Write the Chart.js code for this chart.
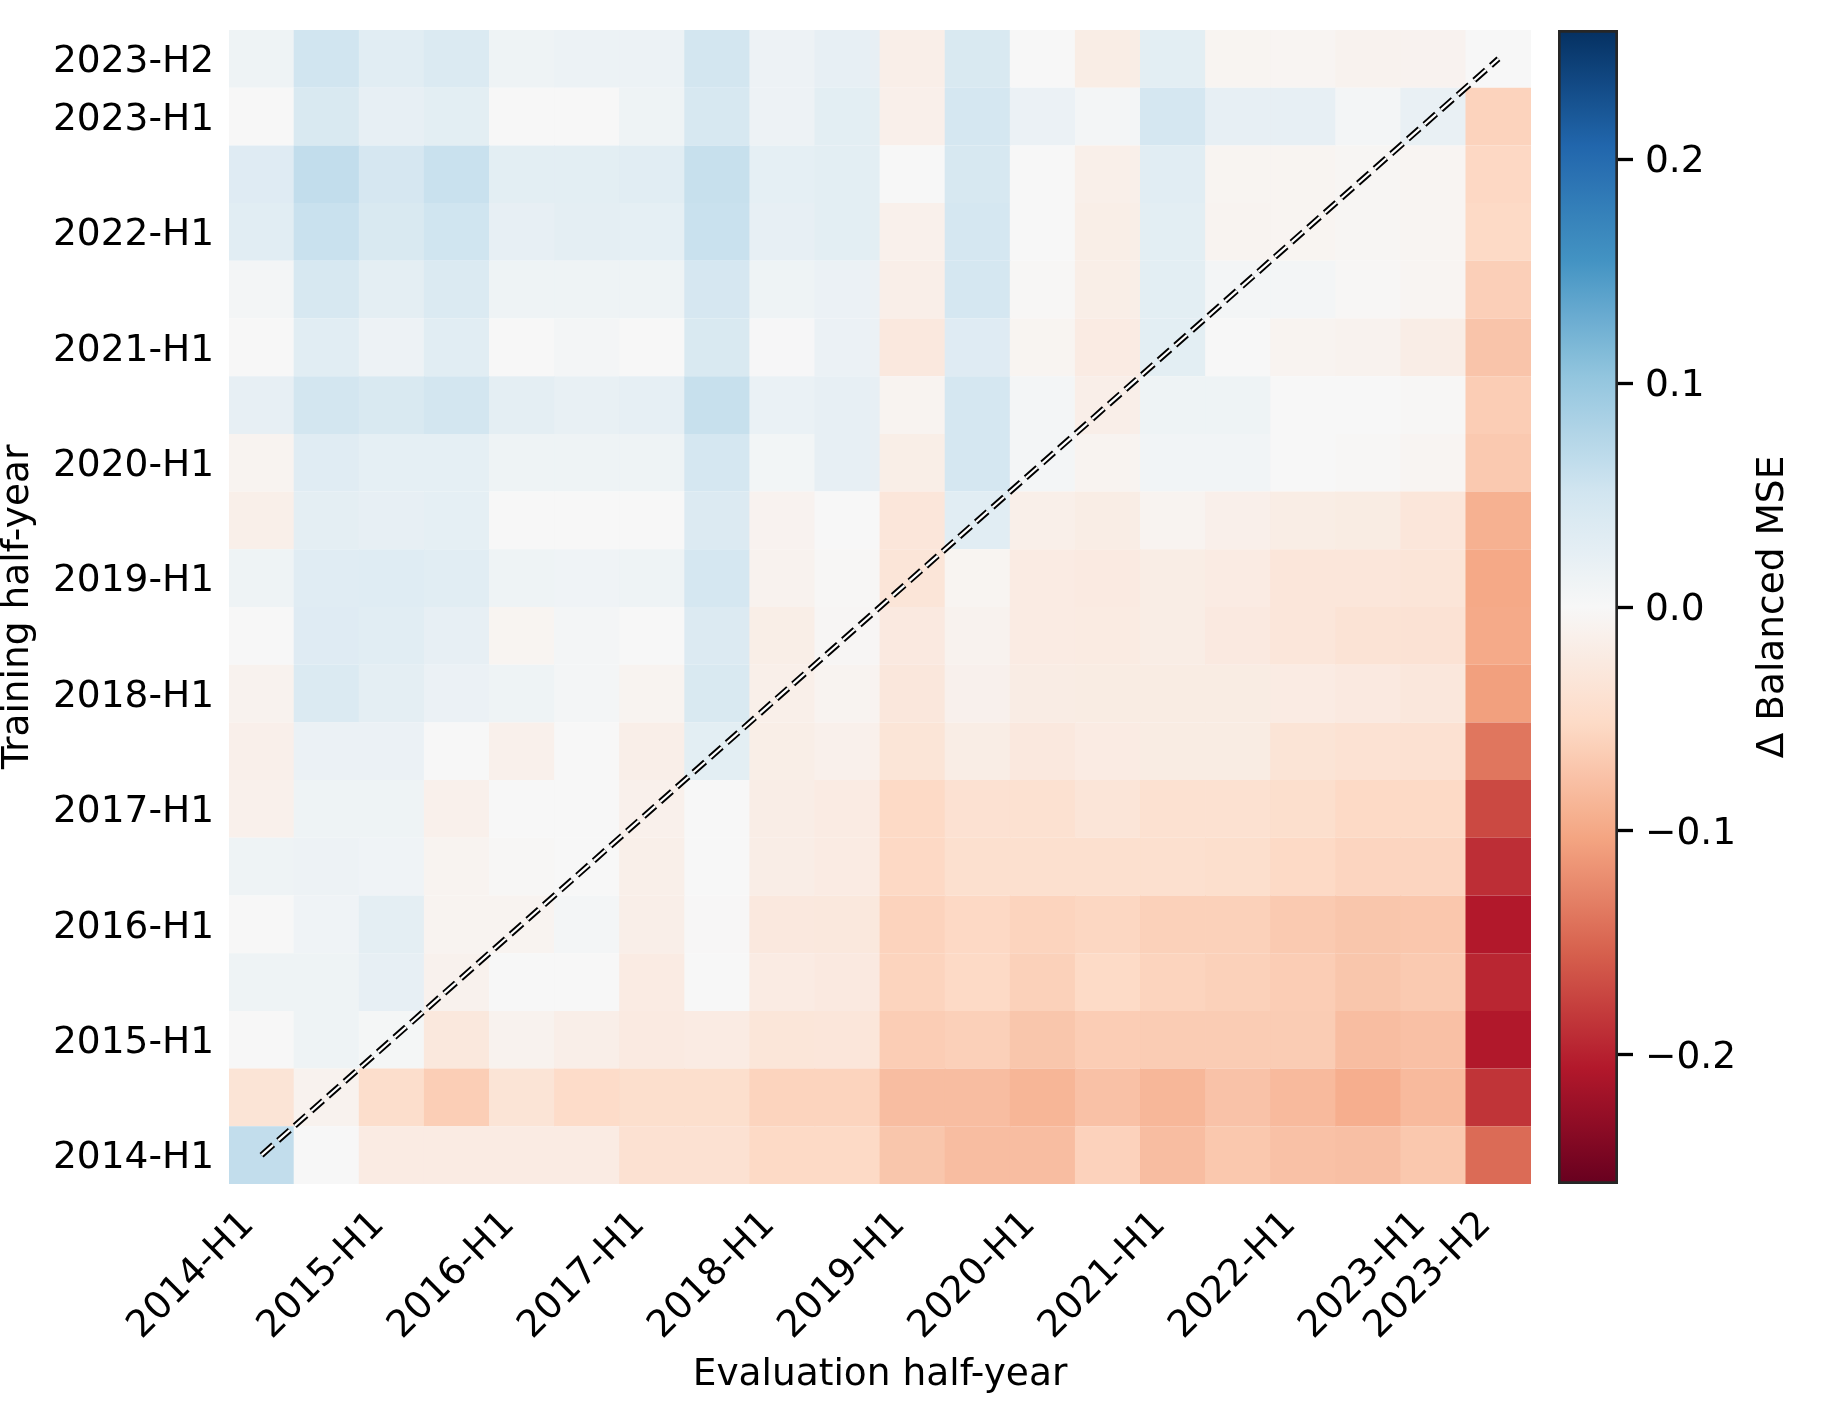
<!DOCTYPE html>
<html>
<head>
<meta charset="utf-8">
<script src="https://cdn.jsdelivr.net/npm/chart.js@4.4.1/dist/chart.umd.min.js"></script>
<style>
html, body { margin: 0; padding: 0; background: #ffffff; }
#wrap { position: relative; width: 1821px; height: 1424px; }
#main { position: absolute; left: 0; top: 0; }
#cbar { position: absolute; left: 1500px; top: 0; }
</style>
</head>
<body>
<div id="wrap">
  <canvas id="main" width="1821" height="1424"></canvas>
  <canvas id="cbar" width="321" height="1424"></canvas>
</div>
<script>
// ---------------- data ----------------
const evalLabels = ['2014-H1','2014-H2','2015-H1','2015-H2','2016-H1','2016-H2','2017-H1','2017-H2','2018-H1','2018-H2',
                    '2019-H1','2019-H2','2020-H1','2020-H2','2021-H1','2021-H2','2022-H1','2022-H2','2023-H1','2023-H2'];
const trainLabels = evalLabels.slice();
const xTickIdx = [0, 2, 4, 6, 8, 10, 12, 14, 16, 18, 19];
const yTickIdx = [0, 2, 4, 6, 8, 10, 12, 14, 16, 18, 19];
const cbarTicks = [-0.2, -0.1, 0.0, 0.1, 0.2];
const vLimit = 0.2576;

// rows: training half-year (2014-H1 first), columns: evaluation half-year
const deltaMSE = [
  /*2014-H1*/ [ 0.064, 0.000,-0.022,-0.022,-0.022,-0.022,-0.040,-0.040,-0.052,-0.052,-0.072,-0.080,-0.080,-0.060,-0.080,-0.070,-0.076,-0.078,-0.070,-0.146],
  /*2014-H2*/ [-0.035,-0.010,-0.046,-0.064,-0.035,-0.049,-0.045,-0.045,-0.058,-0.058,-0.080,-0.080,-0.087,-0.076,-0.086,-0.075,-0.083,-0.094,-0.083,-0.186],
  /*2015-H1*/ [ 0.000, 0.012, 0.004,-0.028,-0.010,-0.016,-0.024,-0.022,-0.032,-0.031,-0.065,-0.062,-0.072,-0.065,-0.066,-0.066,-0.066,-0.080,-0.077,-0.207],
  /*2015-H2*/ [ 0.012, 0.012, 0.022,-0.011, 0.000, 0.000,-0.022, 0.000,-0.022,-0.025,-0.058,-0.052,-0.061,-0.051,-0.058,-0.061,-0.065,-0.072,-0.068,-0.196],
  /*2016-H1*/ [ 0.000, 0.011, 0.026,-0.008,-0.008, 0.006,-0.016,-0.001,-0.027,-0.028,-0.059,-0.053,-0.058,-0.055,-0.061,-0.061,-0.068,-0.072,-0.071,-0.206],
  /*2016-H2*/ [ 0.012, 0.013, 0.011,-0.008,-0.002, 0.000,-0.015, 0.000,-0.018,-0.022,-0.053,-0.043,-0.043,-0.043,-0.043,-0.045,-0.052,-0.057,-0.057,-0.190],
  /*2017-H1*/ [-0.013, 0.012, 0.012,-0.013, 0.000, 0.000,-0.013, 0.000,-0.018,-0.022,-0.052,-0.040,-0.041,-0.033,-0.041,-0.041,-0.045,-0.052,-0.052,-0.171],
  /*2017-H2*/ [-0.014, 0.016, 0.016, 0.000,-0.013, 0.000,-0.016, 0.027,-0.017,-0.013,-0.034,-0.019,-0.027,-0.022,-0.021,-0.021,-0.035,-0.039,-0.040,-0.138],
  /*2018-H1*/ [-0.010, 0.038, 0.026, 0.016, 0.012, 0.006,-0.007, 0.041,-0.015,-0.008,-0.029,-0.012,-0.020,-0.021,-0.021,-0.021,-0.022,-0.025,-0.029,-0.107],
  /*2018-H2*/ [ 0.000, 0.033, 0.030, 0.022,-0.006, 0.005, 0.000, 0.037,-0.017,-0.003,-0.025,-0.010,-0.022,-0.023,-0.019,-0.025,-0.031,-0.036,-0.038,-0.098],
  /*2019-H1*/ [ 0.012, 0.031, 0.032, 0.030, 0.012, 0.011, 0.012, 0.046,-0.010,-0.002,-0.033,-0.006,-0.022,-0.024,-0.019,-0.022,-0.031,-0.031,-0.033,-0.099],
  /*2019-H2*/ [-0.015, 0.026, 0.022, 0.024, 0.000, 0.000, 0.000, 0.037,-0.009, 0.000,-0.031, 0.030,-0.015,-0.019,-0.007,-0.014,-0.019,-0.021,-0.031,-0.092],
  /*2020-H1*/ [-0.007, 0.031, 0.024, 0.024, 0.012, 0.012, 0.012, 0.046, 0.007, 0.022,-0.017, 0.046, 0.005,-0.007, 0.008, 0.008, 0.000,-0.002,-0.005,-0.069],
  /*2020-H2*/ [ 0.022, 0.049, 0.041, 0.049, 0.026, 0.020, 0.023, 0.060, 0.018, 0.022,-0.008, 0.046, 0.005,-0.016, 0.012, 0.012, 0.000, 0.000,-0.002,-0.065],
  /*2021-H1*/ [ 0.000, 0.030, 0.014, 0.030, 0.000, 0.005, 0.000, 0.041, 0.002, 0.016,-0.027, 0.033,-0.006,-0.022, 0.027, 0.000,-0.007,-0.010,-0.018,-0.073],
  /*2021-H2*/ [ 0.005, 0.043, 0.026, 0.038, 0.012, 0.012, 0.012, 0.045, 0.012, 0.016,-0.016, 0.046,-0.002,-0.017, 0.027, 0.005, 0.005,-0.002,-0.005,-0.063],
  /*2022-H1*/ [ 0.030, 0.058, 0.041, 0.052, 0.022, 0.026, 0.024, 0.058, 0.022, 0.027,-0.013, 0.046, 0.000,-0.017, 0.027,-0.007,-0.006,-0.004,-0.005,-0.052],
  /*2022-H2*/ [ 0.033, 0.064, 0.045, 0.058, 0.027, 0.027, 0.030, 0.060, 0.024, 0.027, 0.000, 0.043, 0.000,-0.015, 0.030,-0.006,-0.006,-0.004,-0.005,-0.054],
  /*2023-H1*/ [ 0.000, 0.041, 0.022, 0.027, 0.000, 0.000, 0.012, 0.043, 0.014, 0.027,-0.014, 0.046, 0.016, 0.005, 0.046, 0.022, 0.022, 0.005, 0.019,-0.059],
  /*2023-H2*/ [ 0.012, 0.051, 0.030, 0.038, 0.012, 0.015, 0.015, 0.049, 0.014, 0.022,-0.016, 0.041, 0.000,-0.019, 0.027,-0.006,-0.005,-0.010,-0.009, 0.000]
];

// ---------------- colour map (RdBu) ----------------
const RDBU = [[103,0,31],[178,24,43],[214,96,77],[244,165,130],[253,219,199],[247,247,247],
              [209,229,240],[146,197,222],[67,147,195],[33,102,172],[5,48,97]];
function rdbuAt(t) {
  t = Math.max(0, Math.min(1, t));
  const p = t * 10, i = Math.min(9, Math.floor(p)), f = p - i;
  const a = RDBU[i], b = RDBU[i + 1];
  const c = [0,1,2].map(k => Math.round(a[k] + (b[k] - a[k]) * f));
  return 'rgb(' + c.join(',') + ')';
}
function cmap(v) { return rdbuAt((v + vLimit) / (2 * vLimit)); }

const FONT = "'DejaVu Sans', 'Liberation Sans', sans-serif";
const FS = 37.5;

// ---------------- heatmap ----------------
const datasets = [];
const nT = trainLabels.length, nE = evalLabels.length;
const diagPts = [
  { x: evalLabels[0], y: 0 + 0.5 },
  { x: evalLabels[nE - 1], y: (nT - 1) + 0.5 }
];
datasets.push({ type: 'line', data: diagPts, borderColor: '#ffffff', borderWidth: 2.2,
  borderDash: [15.5, 6.7], pointRadius: 0, order: 0, clip: false, tension: 0 });
datasets.push({ type: 'line', data: diagPts, borderColor: '#000000', borderWidth: 6,
  borderDash: [15.5, 6.7], pointRadius: 0, order: 1, clip: false, tension: 0 });
deltaMSE.forEach((row, k) => {
  datasets.push({
    type: 'bar', label: trainLabels[k],
    data: row.map(() => [k, k + 1]),
    backgroundColor: row.map(cmap),
    borderWidth: 0, barPercentage: 1.012, categoryPercentage: 1, grouped: false, order: 2
  });
});

function noEdgePadding(s) {
  s.paddingTop = 0; s.paddingBottom = 0; s.paddingLeft = 0; s.paddingRight = 0;
}

new Chart(document.getElementById('main'), {
  type: 'bar',
  data: { labels: evalLabels, datasets },
  options: {
    responsive: false, animation: false,
    layout: { padding: { left: 0, top: 30, right: 290, bottom: 30 } },
    plugins: { legend: { display: false }, tooltip: { enabled: false } },
    scales: {
      x: {
        type: 'category', offset: true,
        grid: { display: false, drawTicks: false }, border: { display: false },
        ticks: {
          autoSkip: false, minRotation: 45, maxRotation: 45, padding: 19, labelOffset: -13,
          color: '#000', font: { family: FONT, size: FS },
          callback: (v, i) => xTickIdx.includes(i) ? evalLabels[i] : ''
        },
        title: { display: true, text: 'Evaluation half-year', color: '#000',
                 font: { family: FONT, size: FS, lineHeight: 1 }, padding: 0 },
        afterFit: s => { s.height = 210; noEdgePadding(s); }
      },
      y: {
        type: 'linear', min: 0, max: nT,
        grid: { display: false, drawTicks: false }, border: { display: false },
        afterBuildTicks: s => { s.ticks = yTickIdx.map(i => ({ value: i + 0.5 })); },
        ticks: {
          autoSkip: false, padding: 15, labelOffset: 3.5, color: '#000', font: { family: FONT, size: FS },
          callback: v => trainLabels[Math.round(v - 0.5)]
        },
        title: { display: true, text: 'Training half-year', color: '#000',
                 font: { family: FONT, size: FS, lineHeight: 1 }, padding: 0 },
        afterFit: s => { s.width = 229; noEdgePadding(s); }
      }
    }
  }
});

// ---------------- colour bar ----------------
const cbarTitle = {
  id: 'cbarTitle',
  afterDraw(chart) {
    const { ctx, chartArea } = chart;
    ctx.save();
    ctx.font = FS + 'px ' + FONT;
    ctx.fillStyle = '#000';
    ctx.textAlign = 'center';
    ctx.textBaseline = 'middle';
    ctx.translate(273, (chartArea.top + chartArea.bottom) / 2);
    ctx.rotate(-Math.PI / 2);
    ctx.fillText('\u0394 Balanced MSE', 0, 0);
    ctx.restore();
  }
};
function cbarGradient(c) {
  const chart = c.chart;
  if (!chart.chartArea) return '#f7f7f7';
  const ys = chart.scales.y;
  const g = chart.ctx.createLinearGradient(0, ys.getPixelForValue(-vLimit), 0, ys.getPixelForValue(vLimit));
  for (let i = 0; i <= 40; i++) g.addColorStop(i / 40, rdbuAt(i / 40));
  return g;
}
new Chart(document.getElementById('cbar'), {
  type: 'bar',
  data: { labels: [''], datasets: [{ data: [[-vLimit, vLimit]], backgroundColor: cbarGradient,
          borderColor: '#262626', borderWidth: 3, borderSkipped: false,
          barPercentage: 1, categoryPercentage: 1 }] },
  options: {
    responsive: false, animation: false,
    layout: { padding: { left: 58, top: 30, right: 83, bottom: 240 } },
    plugins: { legend: { display: false }, tooltip: { enabled: false } },
    scales: {
      x: { display: false },
      y: {
        position: 'right', min: -vLimit, max: vLimit,
        afterBuildTicks: s => { s.ticks = cbarTicks.map(v => ({ value: v })); },
        grid: { drawOnChartArea: false, drawTicks: true, tickLength: 15, tickWidth: 3.3, tickColor: '#000' },
        border: { display: false },
        ticks: { padding: 12, labelOffset: 3.5, color: '#000', font: { family: FONT, size: FS },
                 callback: v => (v < -1e-9 ? '\u2212' : '') + Math.abs(v).toFixed(1) },
        afterFit: s => { s.width = 120; noEdgePadding(s); }
      }
    }
  },
  plugins: [cbarTitle]
});
</script>
</body>
</html>
